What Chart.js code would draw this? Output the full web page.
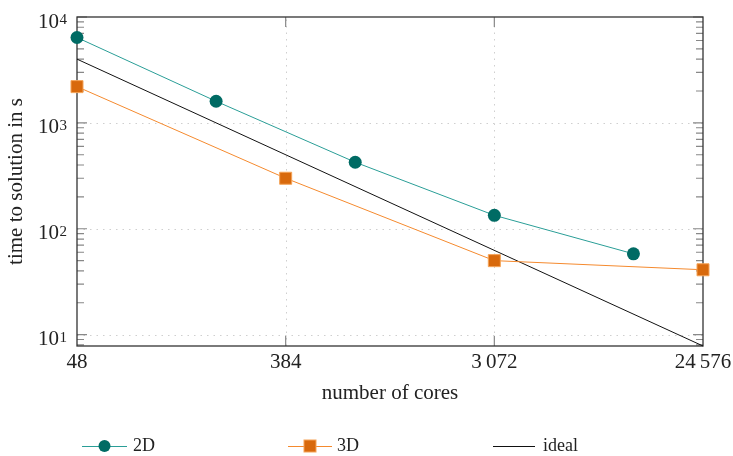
<!DOCTYPE html>
<html>
<head>
<meta charset="utf-8">
<script src="https://cdn.jsdelivr.net/npm/chart.js@4.4.0/dist/chart.umd.min.js"></script>
<style>
  html, body { margin: 0; padding: 0; background: #fff; }
  #wrap { width: 733px; height: 456px; }
</style>
</head>
<body>
<div id="wrap"><canvas id="chart" width="733" height="456"></canvas></div>
<script>
// data
const cores2D = [48, 192, 768, 3072, 12288];
const time2D = [6400, 1600, 425, 134, 58];
const cores3D = [48, 384, 3072, 24576];
const time3D = [2200, 300, 50, 41];
const coresIdeal = [48, 24576];
const timeIdeal = [4000, 7.8125];

const xTicks = [48, 384, 3072, 24576];
const xTickLabels = ['48', '384', '3\u2009072', '24\u2009576'];
const yTicks = [10, 100, 1000, 10000];
const yTickExponents = ['1', '2', '3', '4'];

const seriesNames = ['2D', '3D', 'ideal'];

const TEAL = '#006b64';
const TEAL_LINE = '#2a9e97';
const ORANGE = '#d8690c';
const ORANGE_LINE = '#f58a2e';
const SERIF = '"Liberation Serif", "DejaVu Serif", serif';

Chart.defaults.font.family = SERIF;
Chart.defaults.color = '#222';

const toPoints = (xs, ys) => xs.map((x, i) => ({ x: x, y: ys[i] }));

// frame, dotted grid, inside tick marks and minor ticks
const framePlugin = {
  id: 'frame',
  beforeDatasetsDraw(chart) {
    const { ctx, chartArea: a, scales: { x, y } } = chart;
    ctx.save();
    // dotted grid on major ticks
    ctx.strokeStyle = '#cfcfcf';
    ctx.lineWidth = 1;
    ctx.setLineDash([1.5, 5]);
    xTicks.forEach(v => {
      const px = Math.round(x.getPixelForValue(v)) + 0.5;
      if (px <= a.left + 1 || px >= a.right - 1) return;
      ctx.beginPath(); ctx.moveTo(px, a.bottom); ctx.lineTo(px, a.top); ctx.stroke();
    });
    yTicks.forEach(v => {
      const py = Math.round(y.getPixelForValue(v)) + 0.5;
      if (py <= a.top + 1 || py >= a.bottom - 1) return;
      ctx.beginPath(); ctx.moveTo(a.left, py); ctx.lineTo(a.right, py); ctx.stroke();
    });
    ctx.setLineDash([]);

    // tick marks
    ctx.strokeStyle = '#888';
    ctx.lineWidth = 1.2;
    const major = 10, minor = 7;
    xTicks.forEach(v => {
      const px = x.getPixelForValue(v);
      if (px <= a.left + 1 || px >= a.right - 1) return;
      ctx.beginPath();
      ctx.moveTo(px, a.bottom); ctx.lineTo(px, a.bottom - major);
      ctx.moveTo(px, a.top); ctx.lineTo(px, a.top + major);
      ctx.stroke();
    });
    for (let d = 1; d <= 10000; d *= 10) {
      for (let m = 1; m <= 9; m++) {
        const v = d * m;
        if (v < y.min || v > y.max) continue;
        const py = y.getPixelForValue(v);
        const len = m === 1 ? major : minor;
        ctx.beginPath();
        ctx.moveTo(a.left, py); ctx.lineTo(a.left + len, py);
        ctx.moveTo(a.right, py); ctx.lineTo(a.right - len, py);
        ctx.stroke();
      }
    }

    // box
    ctx.strokeStyle = '#333';
    ctx.lineWidth = 1.3;
    ctx.strokeRect(a.left, a.top, a.right - a.left, a.bottom - a.top);
    ctx.restore();
  },
  afterDraw(chart) {
    const { ctx, scales: { y } } = chart;
    ctx.save();
    ctx.fillStyle = '#222';
    ctx.textBaseline = 'alphabetic';

    // y tick labels as 10 with a raised exponent
    yTicks.forEach((v, i) => {
      const py = y.getPixelForValue(v);
      ctx.font = '15px ' + SERIF;
      ctx.textAlign = 'right';
      ctx.fillText(yTickExponents[i], 67, py + 7);
      const ew = ctx.measureText(yTickExponents[i]).width;
      ctx.font = '21px ' + SERIF;
      ctx.fillText('10', 67 - ew - 0.5, py + 10.5);
    });

    // legend along the bottom
    const cy = 446;
    const items = [
      { x0: 82, x1: 127, text: 133, line: TEAL_LINE, mark: 'circle' },
      { x0: 288, x1: 332, text: 337, line: ORANGE_LINE, mark: 'rect' },
      { x0: 493, x1: 535, text: 543, line: '#111', mark: null }
    ];
    items.forEach((it, i) => {
      ctx.strokeStyle = it.line;
      ctx.lineWidth = 1;
      ctx.beginPath(); ctx.moveTo(it.x0, cy + 0.5); ctx.lineTo(it.x1, cy + 0.5); ctx.stroke();
      const mx = (it.x0 + it.x1) / 2;
      if (it.mark === 'circle') {
        ctx.fillStyle = TEAL;
        ctx.beginPath(); ctx.arc(mx, cy, 6, 0, Math.PI * 2); ctx.fill();
      } else if (it.mark === 'rect') {
        ctx.fillStyle = ORANGE;
        ctx.fillRect(mx - 6, cy - 6, 12, 12);
        ctx.strokeStyle = '#f5a458';
        ctx.strokeRect(mx - 6, cy - 6, 12, 12);
      }
      ctx.fillStyle = '#222';
      ctx.font = '18px ' + SERIF;
      ctx.textAlign = 'left';
      ctx.textBaseline = 'middle';
      ctx.fillText(seriesNames[i], it.text, cy);
    });
    ctx.restore();
  }
};

const ctx = document.getElementById('chart').getContext('2d');
new Chart(ctx, {
  type: 'scatter',
  data: {
    datasets: [
      {
        label: seriesNames[0],
        data: toPoints(cores2D, time2D),
        showLine: true,
        borderColor: TEAL_LINE,
        borderWidth: 1,
        pointStyle: 'circle',
        pointRadius: 6.5,
        pointBackgroundColor: TEAL,
        pointBorderColor: TEAL,
        pointBorderWidth: 0,
        clip: false
      },
      {
        label: seriesNames[1],
        data: toPoints(cores3D, time3D),
        showLine: true,
        borderColor: ORANGE_LINE,
        borderWidth: 1,
        pointStyle: 'rect',
        pointRadius: 8.5,
        pointBackgroundColor: ORANGE,
        pointBorderColor: '#f5a458',
        pointBorderWidth: 1,
        clip: false
      },
      {
        label: seriesNames[2],
        data: toPoints(coresIdeal, timeIdeal),
        showLine: true,
        borderColor: '#111',
        borderWidth: 1,
        pointRadius: 0,
        clip: false
      }
    ]
  },
  options: {
    responsive: false,
    animation: false,
    devicePixelRatio: 1,
    layout: { padding: { top: 17, right: 30, left: 0, bottom: 46 } },
    plugins: {
      legend: { display: false },
      tooltip: { enabled: false }
    },
    scales: {
      x: {
        type: 'logarithmic',
        min: 48,
        max: 24576,
        grid: { display: false },
        border: { display: false },
        afterBuildTicks: s => { s.ticks = xTicks.map(v => ({ value: v })); },
        afterFit: s => { s.height = 64; s.paddingLeft = 0; s.paddingRight = 0; },
        ticks: {
          autoSkip: false,
          maxRotation: 0,
          padding: -4,
          font: { size: 21 },
          color: '#222',
          callback: (v, i) => xTickLabels[i]
        },
        title: {
          display: true,
          text: 'number of cores',
          font: { size: 21 },
          color: '#222',
          padding: { top: 0, bottom: 4 }
        }
      },
      y: {
        type: 'logarithmic',
        min: 7.8125,
        max: 10000,
        grid: { display: false },
        border: { display: false },
        afterBuildTicks: s => { s.ticks = yTicks.map(v => ({ value: v })); },
        afterFit: s => { s.width = 77; s.paddingTop = 0; s.paddingBottom = 0; },
        ticks: { display: false },
        title: {
          display: true,
          text: 'time to solution in s',
          font: { size: 21 },
          color: '#222',
          padding: { top: 4, bottom: 0 }
        }
      }
    }
  },
  plugins: [framePlugin]
});
</script>
</body>
</html>
